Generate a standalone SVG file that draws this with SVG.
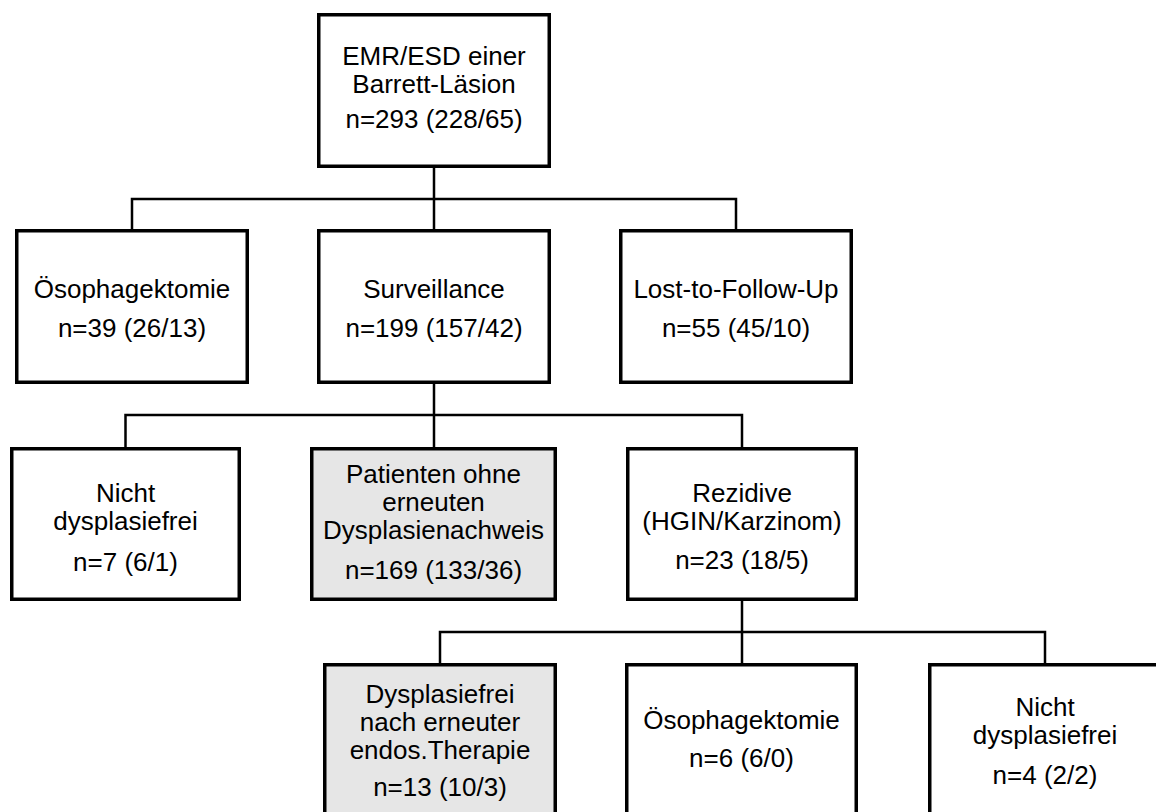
<svg xmlns="http://www.w3.org/2000/svg" width="1156" height="812" viewBox="0 0 1156 812">
<style>
.box{fill:#fff;stroke:#000;stroke-width:3.5}
.gray{fill:#e6e6e6}
.conn{fill:none;stroke:#000;stroke-width:2.5}
text{font-family:"Liberation Sans",Arial,sans-serif;font-size:26px;text-anchor:middle;fill:#000}
</style>
<rect width="1156" height="812" fill="#fff"/>
<g id="connectors">
<path class="conn" d="M434,168 V229 M132,229 V199 H736 V229"/>
<path class="conn" d="M434,384 V447 M125.5,447 V415 H742 V447"/>
<path class="conn" d="M742,601 V663 M440,663 V632 H1045 V663"/>
</g>
<g id="n-root">
<rect class="box" x="318.75" y="14.75" width="230.5" height="151.5"/>
<text x="434" y="65">EMR/ESD einer</text>
<text x="434" y="93">Barrett-Läsion</text>
<text x="434" y="128">n=293 (228/65)</text>
</g>
<g id="n-oesophagektomie1">
<rect class="box" x="16.75" y="230.75" width="230.5" height="151.5"/>
<text x="132" y="298">Ösophagektomie</text>
<text x="132" y="337">n=39 (26/13)</text>
</g>
<g id="n-surveillance">
<rect class="box" x="318.75" y="230.75" width="230.5" height="151.5"/>
<text x="434" y="298">Surveillance</text>
<text x="434" y="337">n=199 (157/42)</text>
</g>
<g id="n-lost">
<rect class="box" x="620.75" y="230.75" width="230.5" height="151.5"/>
<text x="736" y="298">Lost-to-Follow-Up</text>
<text x="736" y="337">n=55 (45/10)</text>
</g>
<g id="n-nicht1">
<rect class="box" x="11.75" y="448.75" width="227.5" height="150.5"/>
<text x="125.5" y="502">Nicht</text>
<text x="125.5" y="530">dysplasiefrei</text>
<text x="125.5" y="571">n=7 (6/1)</text>
</g>
<g id="n-patienten">
<rect class="box gray" x="311.75" y="448.75" width="243.5" height="150.5"/>
<text x="433.5" y="483">Patienten ohne</text>
<text x="433.5" y="511">erneuten</text>
<text x="433.5" y="539">Dysplasienachweis</text>
<text x="433.5" y="579">n=169 (133/36)</text>
</g>
<g id="n-rezidive">
<rect class="box" x="627.75" y="448.75" width="228.5" height="150.5"/>
<text x="742" y="502">Rezidive</text>
<text x="742" y="530">(HGIN/Karzinom)</text>
<text x="742" y="569">n=23 (18/5)</text>
</g>
<g id="n-dysplasiefrei">
<rect class="box gray" x="324.75" y="664.75" width="230.5" height="160"/>
<text x="440" y="703">Dysplasiefrei</text>
<text x="440" y="731">nach erneuter</text>
<text x="440" y="759">endos.Therapie</text>
<text x="440" y="796">n=13 (10/3)</text>
</g>
<g id="n-oesophagektomie2">
<rect class="box" x="626.75" y="664.75" width="229.5" height="160"/>
<text x="741.5" y="729">Ösophagektomie</text>
<text x="741.5" y="767">n=6 (6/0)</text>
</g>
<g id="n-nicht2">
<rect class="box" x="929.75" y="664.75" width="230.5" height="160"/>
<text x="1045" y="716">Nicht</text>
<text x="1045" y="744">dysplasiefrei</text>
<text x="1045" y="784">n=4 (2/2)</text>
</g>
</svg>
